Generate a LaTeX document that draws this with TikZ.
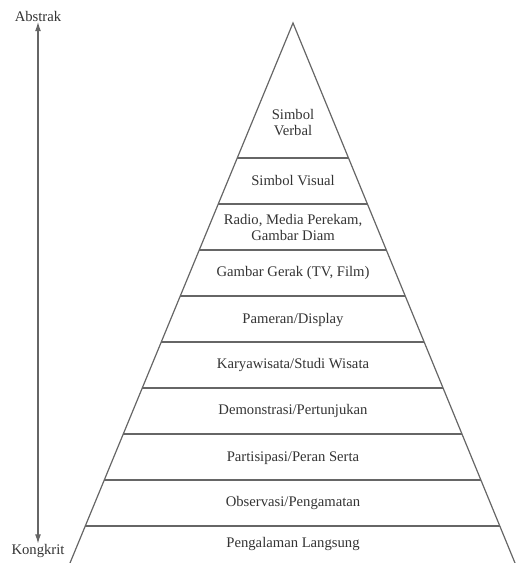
\documentclass[tikz,border=0pt]{standalone}
\usepackage{fontspec}
\setmainfont{Liberation Serif}
\usetikzlibrary{calc,arrows.meta}

\begin{document}
\begin{tikzpicture}[x=0.75pt,y=-0.75pt,
    lvl/.style={text=black!80,align=center,font=\fontsize{11}{12}\selectfont},
    edge/.style={draw=black!60,line width=0.9pt}]
            \useasboundingbox (0,0) rectangle (515,563);

            \coordinate (apex) at (293,23);
            \coordinate (bl)   at (70,563);
            \coordinate (br)   at (515,563);

            \draw[edge] (bl) -- (apex) -- (br);
            \foreach \t in {0.25,0.3352,0.4204,0.5056,0.5907,0.6759,0.7611,0.8463,0.9315}
                \draw[edge] ($(apex)!\t!(bl)$) -- ($(apex)!\t!(br)$);

            \node[lvl] (verbal)  at (293,123) {Simbol\\Verbal};
            \node[lvl] (visual)  at (293,181) {Simbol Visual};
            \node[lvl] (radio)   at (293,227) {Radio, Media Perekam,\\Gambar Diam};
            \node[lvl] (gerak)   at (293,273) {Gambar Gerak (TV, Film)};
            \node[lvl] (pameran) at (293,320) {Pameran/Display};
            \node[lvl] (karya)   at (293,365) {Karyawisata/Studi Wisata};
            \node[lvl] (demo)    at (293,411) {Demonstrasi/Pertunjukan};
            \node[lvl] (partis)  at (293,458) {Partisipasi/Peran Serta};
            \node[lvl] (obs)     at (293,503) {Observasi/Pengamatan};
            \node[lvl] (langsung) at (293,544) {Pengalaman Langsung};

            \node[lvl] (abstrak)  at (38,16)  {Abstrak};
            \node[lvl] (kongkrit) at (38,551) {Kongkrit};
            \draw[edge,{Latex[length=7pt,width=4.5pt]}-{Latex[length=7pt,width=4.5pt]}]
                (abstrak.south) ++(0,-4) coordinate (up) (kongkrit.north) ++(0,4) coordinate (dn)
                (up) -- (dn);
        \end{tikzpicture}
\end{document}
